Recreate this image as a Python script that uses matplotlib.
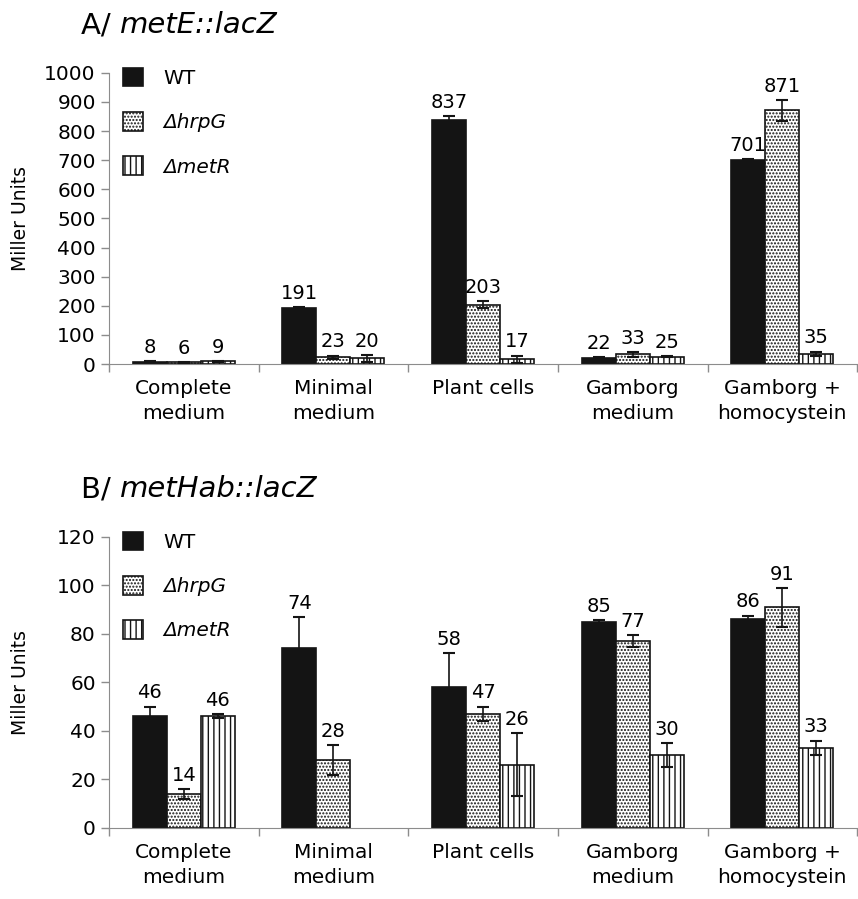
import numpy as np
import matplotlib
matplotlib.use("Agg")
import matplotlib.pyplot as plt
from matplotlib.patches import Patch

# --------------------------------------------------
# DATA
# --------------------------------------------------

conditions = ["Complete\nmedium", "Minimal\nmedium", "Plant cells",
              "Gamborg\nmedium", "Gamborg +\nhomocystein"]
strains = ["WT", "\u0394hrpG", "\u0394metR"]

# A/ metE::lacZ
a_wt = [8, 191, 837, 22, 701]
a_hrpg = [6, 23, 203, 33, 871]
a_metr = [9, 20, 17, 25, 35]
a_wt_err = [1, 5, 15, 1, 3]
a_hrpg_err = [1, 6, 12, 8, 35]
a_metr_err = [1, 12, 12, 2, 8]

# B/ metHab::lacZ (no metR bar on minimal medium)
b_wt = [46, 74, 58, 85, 86]
b_hrpg = [14, 28, 47, 77, 91]
b_metr = [46, np.nan, 26, 30, 33]
b_wt_err = [4, 13, 14, 0.8, 1.5]
b_hrpg_err = [2, 6, 3, 2.5, 8]
b_metr_err = [0.8, np.nan, 13, 5, 3]

a_ticks = list(range(0, 1001, 100))
b_ticks = list(range(0, 121, 20))

# --------------------------------------------------
# STYLE
# --------------------------------------------------

plt.rcParams["font.family"] = "DejaVu Sans"
plt.rcParams["hatch.linewidth"] = 1.0
FS = 14.5
GREY = "#8c8c8c"
BAR_W = 0.227
styles = [
    dict(color="#141414", edgecolor="#141414", hatch=None),
    dict(color="white", edgecolor="#141414", hatch="....."),
    dict(color="white", edgecolor="#141414", hatch="|||"),
]


def draw_panel(ax, series, errors, ticks, title):
    x = np.arange(len(conditions))
    for i, (vals, errs, st) in enumerate(zip(series, errors, styles)):
        xs = x + (i - 1) * BAR_W
        vals = np.array(vals, dtype=float)
        errs = np.array(errs, dtype=float)
        ok = ~np.isnan(vals)
        ax.bar(xs[ok], vals[ok], BAR_W, facecolor=st["color"],
               edgecolor=st["edgecolor"], hatch=st["hatch"], linewidth=1.2,
               zorder=2)
        ax.errorbar(xs[ok], vals[ok], yerr=errs[ok], fmt="none",
                    ecolor="#141414", elinewidth=1.2, capsize=4,
                    capthick=1.5, zorder=3)
        for xi, v, e in zip(xs[ok], vals[ok], errs[ok]):
            ax.annotate(f"{v:.0f}", (xi, v + e), xytext=(0, 3),
                        textcoords="offset points", ha="center",
                        va="bottom", fontsize=14)

    ax.set_xlim(-0.5, len(conditions) - 0.5)
    ax.set_ylim(ticks[0], ticks[-1])
    ax.set_yticks(ticks)
    ax.set_xticks(np.arange(len(conditions) + 1) - 0.5)
    ax.set_xticklabels([])
    ax.set_xticks(x, minor=True)
    ax.set_xticklabels(conditions, minor=True, fontsize=FS, linespacing=1.35)
    ax.tick_params(axis="x", which="minor", length=0, pad=11)
    ax.tick_params(axis="both", which="major", color=GREY, length=6,
                   width=1, labelsize=FS)
    for side in ("top", "right"):
        ax.spines[side].set_visible(False)
    for side in ("left", "bottom"):
        ax.spines[side].set_color(GREY)
    ax.set_ylabel("Miller Units", fontsize=13.5)
    ax.yaxis.set_label_coords(-0.105, 0.5)

    t1 = ax.text(-0.038, 1.115, title[0], transform=ax.transAxes,
                 fontsize=21, ha="left", va="bottom")
    ax.annotate(title[1], xy=(1, 0), xycoords=t1, fontsize=21,
                style="italic", ha="left", va="bottom")

    handles = [Patch(facecolor=st["color"], edgecolor=st["edgecolor"],
                     hatch=st["hatch"], linewidth=1.2) for st in styles]
    leg = ax.legend(handles, strains, loc="upper left",
                    bbox_to_anchor=(-0.005, 1.08), frameon=False,
                    fontsize=FS, handlelength=1.0, handleheight=1.05,
                    labelspacing=1.2, handletextpad=1.0)
    for txt in leg.get_texts()[1:]:
        txt.set_style("italic")


fig = plt.figure(figsize=(8.58, 8.99), dpi=100)
ax_a = fig.add_axes([0.127, 0.595, 0.872, 0.324])
ax_b = fig.add_axes([0.127, 0.079, 0.872, 0.324])

draw_panel(ax_a, [a_wt, a_hrpg, a_metr], [a_wt_err, a_hrpg_err, a_metr_err],
           a_ticks, ("A/ ", "metE::lacZ"))
draw_panel(ax_b, [b_wt, b_hrpg, b_metr], [b_wt_err, b_hrpg_err, b_metr_err],
           b_ticks, ("B/ ", "metHab::lacZ"))

fig.savefig("out.png", dpi=100)
plt.close(fig)
